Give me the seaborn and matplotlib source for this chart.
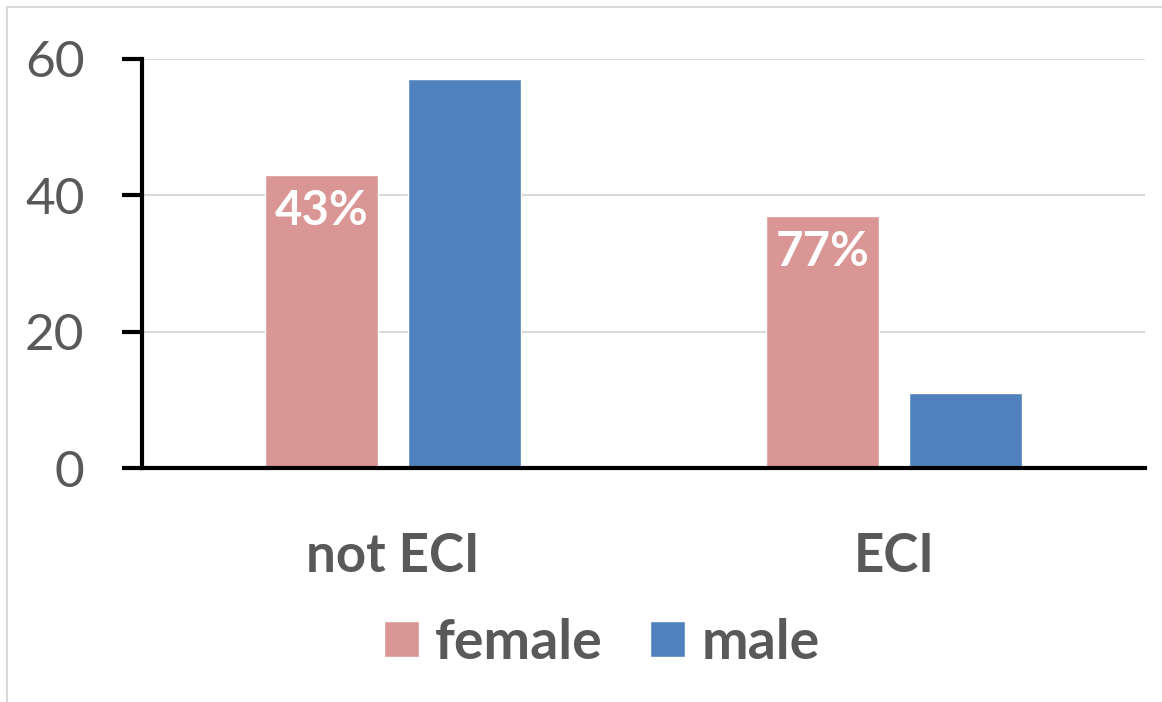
import numpy as np
import pandas as pd
import matplotlib
matplotlib.use("Agg")
import matplotlib.pyplot as plt
import seaborn as sns

# Data
categories = ["not ECI", "ECI"]
genders = ["female", "male"]
female_counts = [43, 37]
male_counts = [57, 11]
female_pct_labels = ["43%", "77%"]

df = pd.DataFrame({
    "group": categories * 2,
    "gender": ["female"] * len(categories) + ["male"] * len(categories),
    "count": female_counts + male_counts,
})

sns.set_theme(style="white")
plt.rcParams["font.family"] = ["Lato", "DejaVu Sans"]

fig, ax = plt.subplots(figsize=(11.62, 7.02), dpi=100)
fig.subplots_adjust(left=0.1222, right=0.9854, top=0.916, bottom=0.3333)

palette = {"female": "#D99694", "male": "#4F81BD"}
sns.barplot(data=df, x="group", y="count", hue="gender", hue_order=genders,
            order=categories, palette=palette, width=0.57, gap=0.21,
            saturation=1, ax=ax)

# percentage labels inside the female bars
ax.bar_label(ax.containers[0], labels=female_pct_labels, label_type="edge",
             padding=-42, color="white", fontsize=34, fontweight="bold")

ax.set_xlim(-0.5, 1.5)
ax.set_ylim(0, 60)
ax.set_yticks([0, 20, 40, 60])
ax.yaxis.grid(True, color="#D9D9D9", linewidth=1.5)
ax.set_axisbelow(True)
ax.set_xlabel("")
ax.set_ylabel("")

for side in ["top", "right"]:
    ax.spines[side].set_visible(False)
for side in ["left", "bottom"]:
    ax.spines[side].set_color("black")
    ax.spines[side].set_linewidth(3)

ax.tick_params(axis="y", left=True, length=14.4, width=3, color="black",
               pad=27, labelsize=37, labelcolor="#595959")
ax.tick_params(axis="x", bottom=False, pad=40, labelsize=38,
               labelcolor="#595959")
for lbl in ax.get_xticklabels():
    lbl.set_fontweight("bold")

sns.move_legend(ax, "center", bbox_to_anchor=(0.518, 0.084),
                bbox_transform=fig.transFigure, ncol=2, frameon=False,
                title=None, fontsize=40, handlelength=0.62, handleheight=0.62,
                handletextpad=0.3, columnspacing=0.85)
for txt in ax.get_legend().get_texts():
    txt.set_color("#595959")
    txt.set_fontweight("bold")

# thin grey frame on the left and top of the figure
fig.add_artist(plt.Line2D([0.006, 0.006], [0, 0.99], transform=fig.transFigure,
                          color="#D9D9D9", linewidth=1.5))
fig.add_artist(plt.Line2D([0.006, 1], [0.99, 0.99], transform=fig.transFigure,
                          color="#D9D9D9", linewidth=1.5))

fig.savefig("out.png", dpi=100)
